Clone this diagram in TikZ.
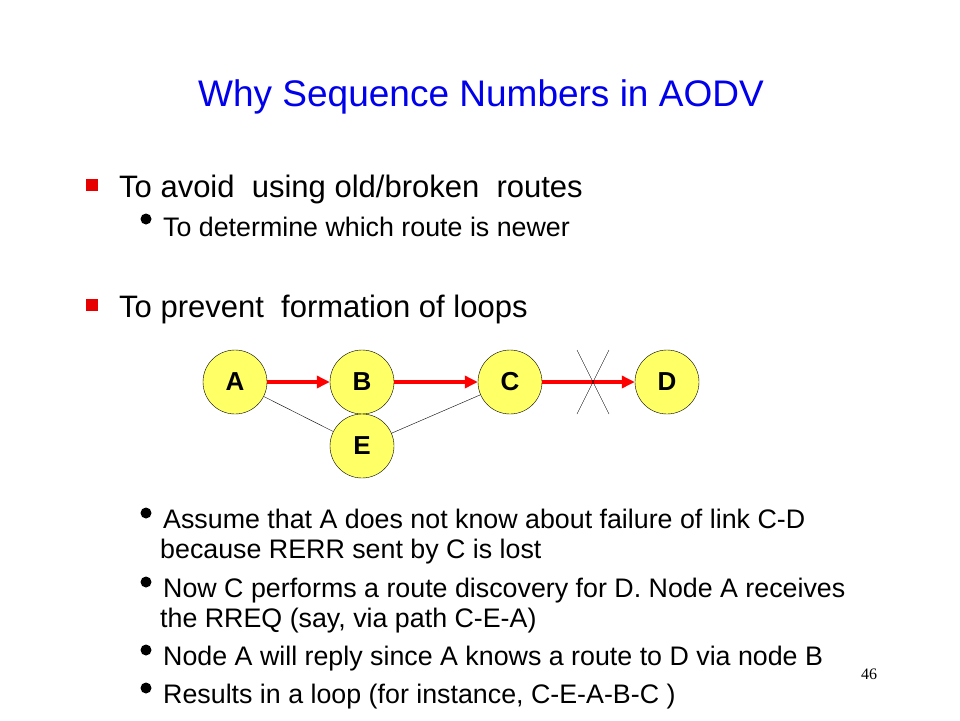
\documentclass[tikz,border=0pt]{standalone}
\usepackage{fontspec}
\setmainfont{Liberation Sans}
\newfontfamily\pagefont{Liberation Serif}
\usetikzlibrary{arrows.meta}

\definecolor{titleblue}{RGB}{0,0,235}
\definecolor{nodeyellow}{RGB}{255,255,102}
\definecolor{bulletred}{RGB}{230,0,0}

\tikzset{
  station/.style={circle,draw=black,fill=nodeyellow,thin,minimum size=64pt,inner sep=0pt,
    font=\fontsize{26}{30}\selectfont\bfseries},
  route/.style={draw=red,line width=4pt,-{Triangle[length=13pt,width=12pt]}},
  link/.style={draw=black,thin},
  cut/.style={draw=black,thin},
  lvlone/.style={anchor=base west,inner sep=0pt,font=\fontsize{31}{36}\selectfont},
  lvltwo/.style={anchor=base west,inner sep=0pt,font=\fontsize{26.8}{30}\selectfont},
  sqbullet/.style={fill=bulletred,minimum width=12pt,minimum height=12pt,inner sep=0pt,
    text height=0pt,text depth=0pt},
  dotbullet/.style={circle,fill=black,minimum size=11pt,inner sep=0pt}
}

\begin{document}
\begin{tikzpicture}[x=1pt,y=-1pt]
  \useasboundingbox (0,0) rectangle (960,720);
  % title
  \node[anchor=base,inner sep=0pt,text=titleblue,font=\fontsize{37}{44}\selectfont]
    (title) at (481,106) {Why Sequence Numbers in AODV};
  % first level items
  \node[sqbullet] (sq1) at (92,185) {};
  \node[lvlone] (avoid) at (119,197) {To avoid\ \ using old/broken\ \ routes};
  \node[dotbullet] (dt1) at (146,219) {};
  \node[lvltwo] (newer) at (163,236) {To determine which route is newer};
  \node[sqbullet] (sq2) at (92,305) {};
  \node[lvlone] (loops) at (119,317) {To prevent\ \ formation of loops};
  % network
  \node[station] (A) at (235,382) {A};
  \node[station] (B) at (362,382) {B};
  \node[station] (C) at (510,382) {C};
  \node[station] (D) at (667,382) {D};
  \node[station] (E) at (362,446) {E};
  \draw[link] (A) -- (E);
  \draw[link] (C) -- (E);
  \draw[route] (A) -- (B);
  \draw[route] (B) -- (C);
  \draw[route] (C) -- (D);
  \coordinate (x1) at (577,350);
  \coordinate (x2) at (609,414);
  \coordinate (x3) at (609,350);
  \coordinate (x4) at (577,414);
  \draw[cut] (x1) -- (x2);
  \draw[cut] (x3) -- (x4);
  % second level items
  \node[dotbullet] (dt2) at (146,513) {};
  \node[lvltwo] (assume) at (163,528) {Assume that A does not know about failure of link C-D};
  \node[lvltwo] (rerr) at (160,558) {because RERR sent by C is lost};
  \node[dotbullet] (dt3) at (146,582) {};
  \node[lvltwo] (now) at (163,597) {Now C performs a route discovery for D. Node A receives};
  \node[lvltwo] (rreq) at (160,627) {the RREQ (say, via path C-E-A)};
  \node[dotbullet] (dt4) at (146,650) {};
  \node[lvltwo] (reply) at (163,665) {Node A will reply since A knows a route to D via node B};
  \node[dotbullet] (dt5) at (146,688) {};
  \node[lvltwo] (result) at (163,703) {Results in a loop (for instance, C-E-A-B-C )};
  % page number
  \node[anchor=base,inner sep=0pt,font=\pagefont\fontsize{16}{19}\selectfont] (page) at (869,679) {46};
\end{tikzpicture}
\end{document}
